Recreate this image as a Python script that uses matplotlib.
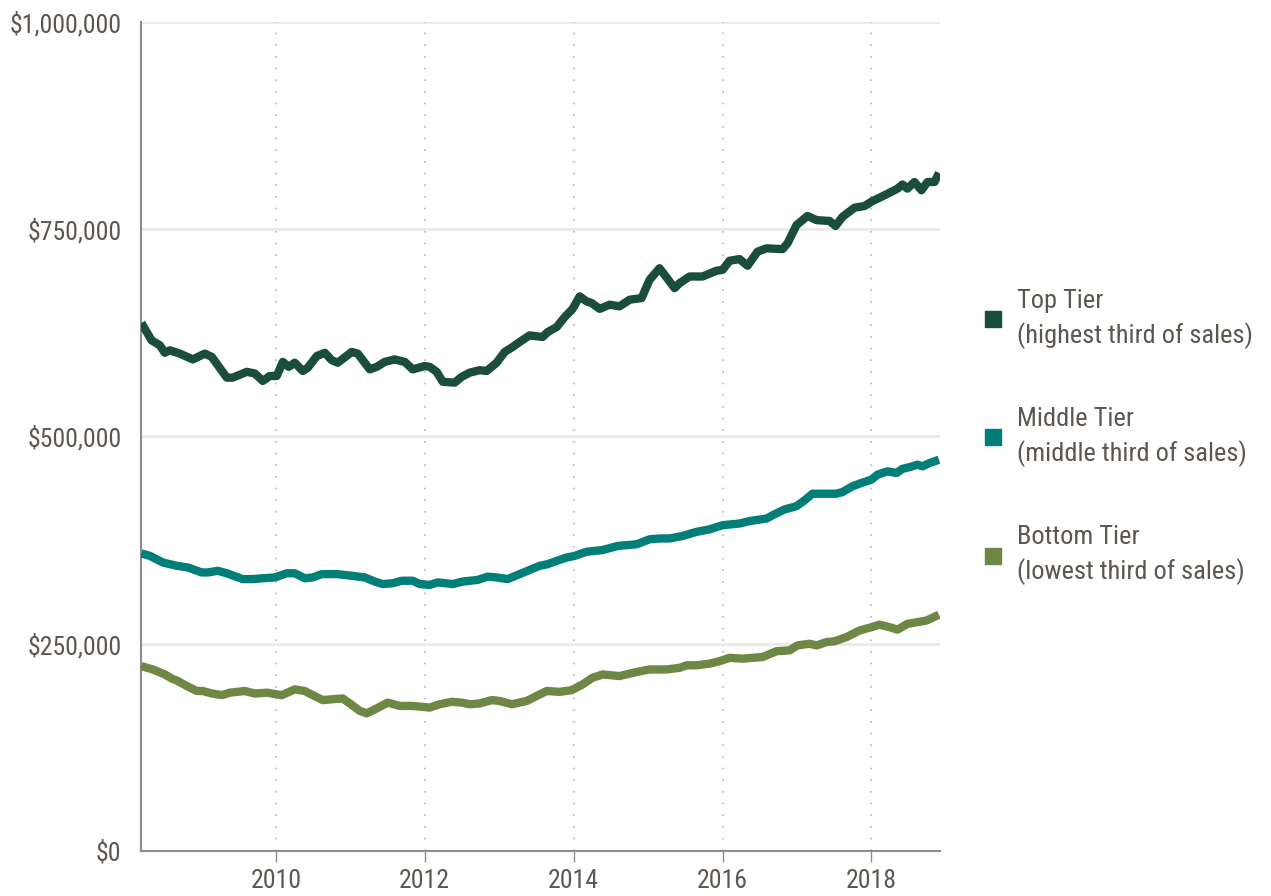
import matplotlib
matplotlib.use("Agg")
import matplotlib.pyplot as plt
from matplotlib import font_manager
from matplotlib.lines import Line2D
from matplotlib.ticker import FuncFormatter, FixedLocator

# ---------------- data (values in thousands of dollars, dates in decimal years) ----------------
top_dates = [2008.195, 2008.332, 2008.443, 2008.510, 2008.577, 2008.711, 2008.886, 2009.047,
             2009.141, 2009.221, 2009.342, 2009.423, 2009.611, 2009.718, 2009.826, 2009.919,
             2010.013, 2010.094, 2010.174, 2010.255, 2010.362, 2010.430, 2010.550, 2010.658,
             2010.752, 2010.832, 2011.020, 2011.101, 2011.262, 2011.356, 2011.463, 2011.597,
             2011.732, 2011.839, 2012.000, 2012.067, 2012.161, 2012.242, 2012.403, 2012.497,
             2012.604, 2012.738, 2012.832, 2012.966, 2013.074, 2013.181, 2013.275, 2013.409,
             2013.584, 2013.651, 2013.772, 2013.879, 2013.987, 2014.081, 2014.174, 2014.242,
             2014.349, 2014.483, 2014.617, 2014.752, 2014.913, 2015.020, 2015.154, 2015.356,
             2015.423, 2015.557, 2015.732, 2015.919, 2016.000, 2016.094, 2016.228, 2016.336,
             2016.470, 2016.591, 2016.805, 2016.872, 2016.993, 2017.141, 2017.262, 2017.436,
             2017.517, 2017.611, 2017.772, 2017.906, 2018.013, 2018.107, 2018.242, 2018.349,
             2018.416, 2018.483, 2018.577, 2018.671, 2018.752, 2018.846, 2018.906]
top_values = [637, 616, 610, 601, 604, 600, 593, 600,
              596, 586, 571, 571, 578, 576, 567, 573,
              573, 590, 584, 589, 579, 583, 597, 601,
              592, 589, 602, 600, 581, 584, 590, 593,
              590, 581, 585, 584, 578, 566, 565, 572,
              577, 580, 579, 589, 602, 608, 614, 622,
              620, 626, 632, 644, 654, 669, 663, 661,
              654, 659, 657, 665, 667, 689, 703, 679,
              685, 693, 693, 700, 701, 712, 714, 706,
              723, 727, 726, 733, 755, 766, 761, 760,
              754, 765, 776, 778, 784, 788, 794, 799,
              804, 799, 807, 797, 807, 807, 818]

mid_dates = [2008.195, 2008.309, 2008.483, 2008.671, 2008.819, 2009.007, 2009.087, 2009.221,
             2009.342, 2009.557, 2009.691, 2009.826, 2009.987, 2010.148, 2010.255, 2010.389,
             2010.497, 2010.617, 2010.819, 2011.020, 2011.195, 2011.329, 2011.436, 2011.570,
             2011.691, 2011.839, 2011.933, 2012.067, 2012.174, 2012.376, 2012.510, 2012.711,
             2012.846, 2012.966, 2013.114, 2013.275, 2013.409, 2013.544, 2013.651, 2013.772,
             2013.906, 2014.013, 2014.174, 2014.389, 2014.591, 2014.846, 2015.020, 2015.154,
             2015.289, 2015.463, 2015.651, 2015.826, 2016.000, 2016.228, 2016.362, 2016.591,
             2016.671, 2016.832, 2016.993, 2017.101, 2017.208, 2017.342, 2017.530, 2017.611,
             2017.745, 2017.866, 2018.000, 2018.081, 2018.215, 2018.336, 2018.416, 2018.510,
             2018.617, 2018.685, 2018.779, 2018.906]
mid_values = [359, 356, 348, 344, 342, 336, 336, 338,
              335, 328, 328, 329, 330, 335, 335, 329,
              330, 334, 334, 332, 330, 325, 322, 323,
              326, 326, 322, 321, 324, 322, 325, 327,
              331, 330, 328, 334, 339, 344, 346, 350,
              354, 356, 361, 363, 368, 370, 376, 377,
              377, 380, 385, 388, 393, 395, 398, 401,
              405, 412, 416, 423, 431, 431, 431, 433,
              440, 444, 448, 454, 458, 456, 461, 463,
              466, 464, 468, 472]

bot_dates = [2008.195, 2008.349, 2008.510, 2008.604, 2008.685, 2008.805, 2008.940, 2009.020,
             2009.141, 2009.275, 2009.383, 2009.584, 2009.718, 2009.879, 2010.081, 2010.255,
             2010.389, 2010.497, 2010.631, 2010.752, 2010.899, 2010.993, 2011.128, 2011.221,
             2011.356, 2011.503, 2011.664, 2011.839, 2012.067, 2012.201, 2012.362, 2012.497,
             2012.604, 2012.738, 2012.899, 2013.007, 2013.168, 2013.369, 2013.503, 2013.638,
             2013.812, 2013.973, 2014.121, 2014.255, 2014.389, 2014.617, 2014.846, 2015.020,
             2015.248, 2015.423, 2015.517, 2015.651, 2015.826, 2015.960, 2016.094, 2016.268,
             2016.537, 2016.725, 2016.899, 2017.007, 2017.168, 2017.262, 2017.396, 2017.503,
             2017.664, 2017.839, 2018.000, 2018.107, 2018.242, 2018.349, 2018.483, 2018.617,
             2018.738, 2018.906]
bot_values = [223, 219, 213, 208, 205, 199, 193, 193,
              190, 188, 191, 193, 190, 191, 188, 195,
              193, 188, 182, 183, 184, 178, 169, 166,
              172, 179, 175, 175, 173, 177, 180, 179,
              177, 178, 182, 181, 177, 181, 187, 193,
              192, 194, 201, 209, 213, 211, 216, 219,
              219, 221, 224, 224, 226, 229, 233, 232,
              234, 241, 242, 248, 250, 248, 252, 253,
              258, 266, 270, 273, 270, 267, 274, 276,
              278, 285]

series_names = ["Top Tier\n(highest third of sales)",
                "Middle Tier\n(middle third of sales)",
                "Bottom Tier\n(lowest third of sales)"]
y_ticks = [0, 250000, 500000, 750000, 1000000]
x_ticks = [2010, 2012, 2014, 2016, 2018]

# ---------------- styling ----------------
colors = ["#1a4d3c", "#007f78", "#6e8744"]
text_color = "#5b5650"

available = {f.name for f in font_manager.fontManager.ttflist}
family = "DejaVu Sans"
for cand in ["Roboto Condensed", "Liberation Sans Narrow", "Open Sans Condensed",
             "Noto Sans Condensed", "DejaVu Sans Condensed", "Roboto", "Liberation Sans"]:
    if cand in available:
        family = cand
        break
plt.rcParams["font.family"] = [family, "DejaVu Sans"]

fig = plt.figure(figsize=(12.71, 8.96), dpi=100)
ax = fig.add_axes([141 / 1271, 1 - 851 / 896, (940 - 141) / 1271, (851 - 22) / 896])

for d, v, c, n in zip([top_dates, mid_dates, bot_dates],
                      [top_values, mid_values, bot_values], colors, series_names):
    ax.plot(d, [val * 1000 for val in v], color=c, lw=6, solid_joinstyle="round",
            solid_capstyle="butt", label=n, zorder=3)

ax.set_xlim(2008.19, 2018.92)
ax.set_ylim(0, 1000000)
ax.xaxis.set_major_locator(FixedLocator(x_ticks))
ax.yaxis.set_major_locator(FixedLocator(y_ticks))
ax.yaxis.set_major_formatter(FuncFormatter(lambda v, p: "${:,.0f}".format(v)))
ax.xaxis.set_major_formatter(FuncFormatter(lambda v, p: "{:.0f}".format(v)))

for yv in y_ticks[1:]:
    ax.axhline(yv, color="#e9e9e9", lw=2, zorder=1)
for xv in x_ticks:
    ax.axvline(xv, color="#b8b8b8", lw=1.2, ls=(0, (1, 6)), zorder=1)

for s in ["top", "right"]:
    ax.spines[s].set_visible(False)
for s in ["left", "bottom"]:
    ax.spines[s].set_color("#8c8c8c")
    ax.spines[s].set_linewidth(1.5)

ax.tick_params(axis="y", length=0, pad=14, labelsize=18.5, labelcolor=text_color)
ax.tick_params(axis="x", length=8, width=1, color="#8c8c8c", direction="out",
               pad=5, labelsize=18.5, labelcolor=text_color)

handles = [Line2D([0], [0], marker="s", ls="none", markersize=11, color=c) for c in colors]
leg = ax.legend(handles, series_names, loc="center left",
                bbox_to_anchor=(972 / 1271, 1 - 437 / 896), bbox_transform=fig.transFigure,
                frameon=False, fontsize=19, labelspacing=2.2, handletextpad=0.5,
                handlelength=0.8, borderaxespad=0)
for t in leg.get_texts():
    t.set_color(text_color)
    t.set_linespacing(1.45)

fig.savefig("out.png", dpi=100)
